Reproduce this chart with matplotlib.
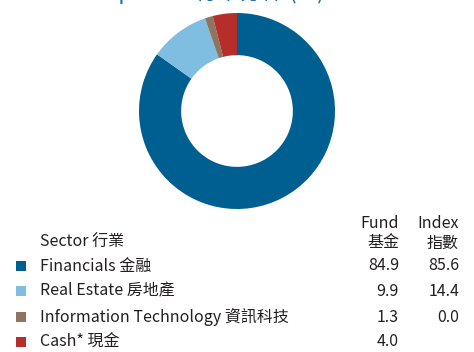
import matplotlib
matplotlib.use("Agg")
import matplotlib.pyplot as plt

plt.rcParams['font.family'] = ['Noto Sans CJK TC', 'DejaVu Sans']

# sector weights (%)
sectors = ['Financials 金融', 'Real Estate 房地產', 'Information Technology 資訊科技', 'Cash* 現金']
fund = [84.9, 9.9, 1.3, 4.0]
index = ['85.6', '14.4', '0.0', '']
colors = ['#005f91', '#7fbde1', '#8e7461', '#b52e2a']

W, H = 474, 352
fig = plt.figure(figsize=(W / 100, H / 100), dpi=100)


def px(x, y):
    # pixel position from top-left -> figure fraction
    return x / W, 1 - y / H


# title sits mostly above the top edge
tx, ty = px(324, -1.5)
fig.text(tx, ty, 'Sector Exposure 行業分佈 (%)', ha='right', va='baseline',
         fontsize=16, color='#1b6ea8')

# donut
cx, cy, r = 237, 111, 98
ax = fig.add_axes([(cx - r) / W, 1 - (cy + r) / H, 2 * r / W, 2 * r / H])
ax.pie(fund, colors=colors, startangle=90, counterclock=False, radius=1,
       wedgeprops=dict(width=0.43, edgecolor='none'))
ax.set_xlim(-1, 1)
ax.set_ylim(-1, 1)
ax.set_aspect('equal')
ax.axis('off')

txt_color = '#231f20'
fs = 11.5

# table header
fig.text(*px(40, 242), 'Sector 行業', ha='left', va='center', fontsize=fs, color=txt_color)
fig.text(*px(399, 223), 'Fund', ha='right', va='center', fontsize=fs, color=txt_color)
fig.text(*px(399, 243), '基金', ha='right', va='center', fontsize=fs, color=txt_color)
fig.text(*px(459, 223), 'Index', ha='right', va='center', fontsize=fs, color=txt_color)
fig.text(*px(459, 243), '指數', ha='right', va='center', fontsize=fs, color=txt_color)

# table rows
row_y = [266, 291, 317, 342]
for name, f, idx, c, y in zip(sectors, fund, index, colors, row_y):
    sx, sy = px(16, y + 5)
    fig.patches.append(plt.Rectangle((sx, sy), 10 / W, 10 / H, transform=fig.transFigure,
                                     facecolor=c, edgecolor='none'))
    fig.text(*px(40, y), name, ha='left', va='center', fontsize=fs, color=txt_color)
    fig.text(*px(399, y), f'{f:.1f}', ha='right', va='center', fontsize=fs, color=txt_color)
    if idx:
        fig.text(*px(459, y), idx, ha='right', va='center', fontsize=fs, color=txt_color)

fig.savefig('out.png', dpi=100)
